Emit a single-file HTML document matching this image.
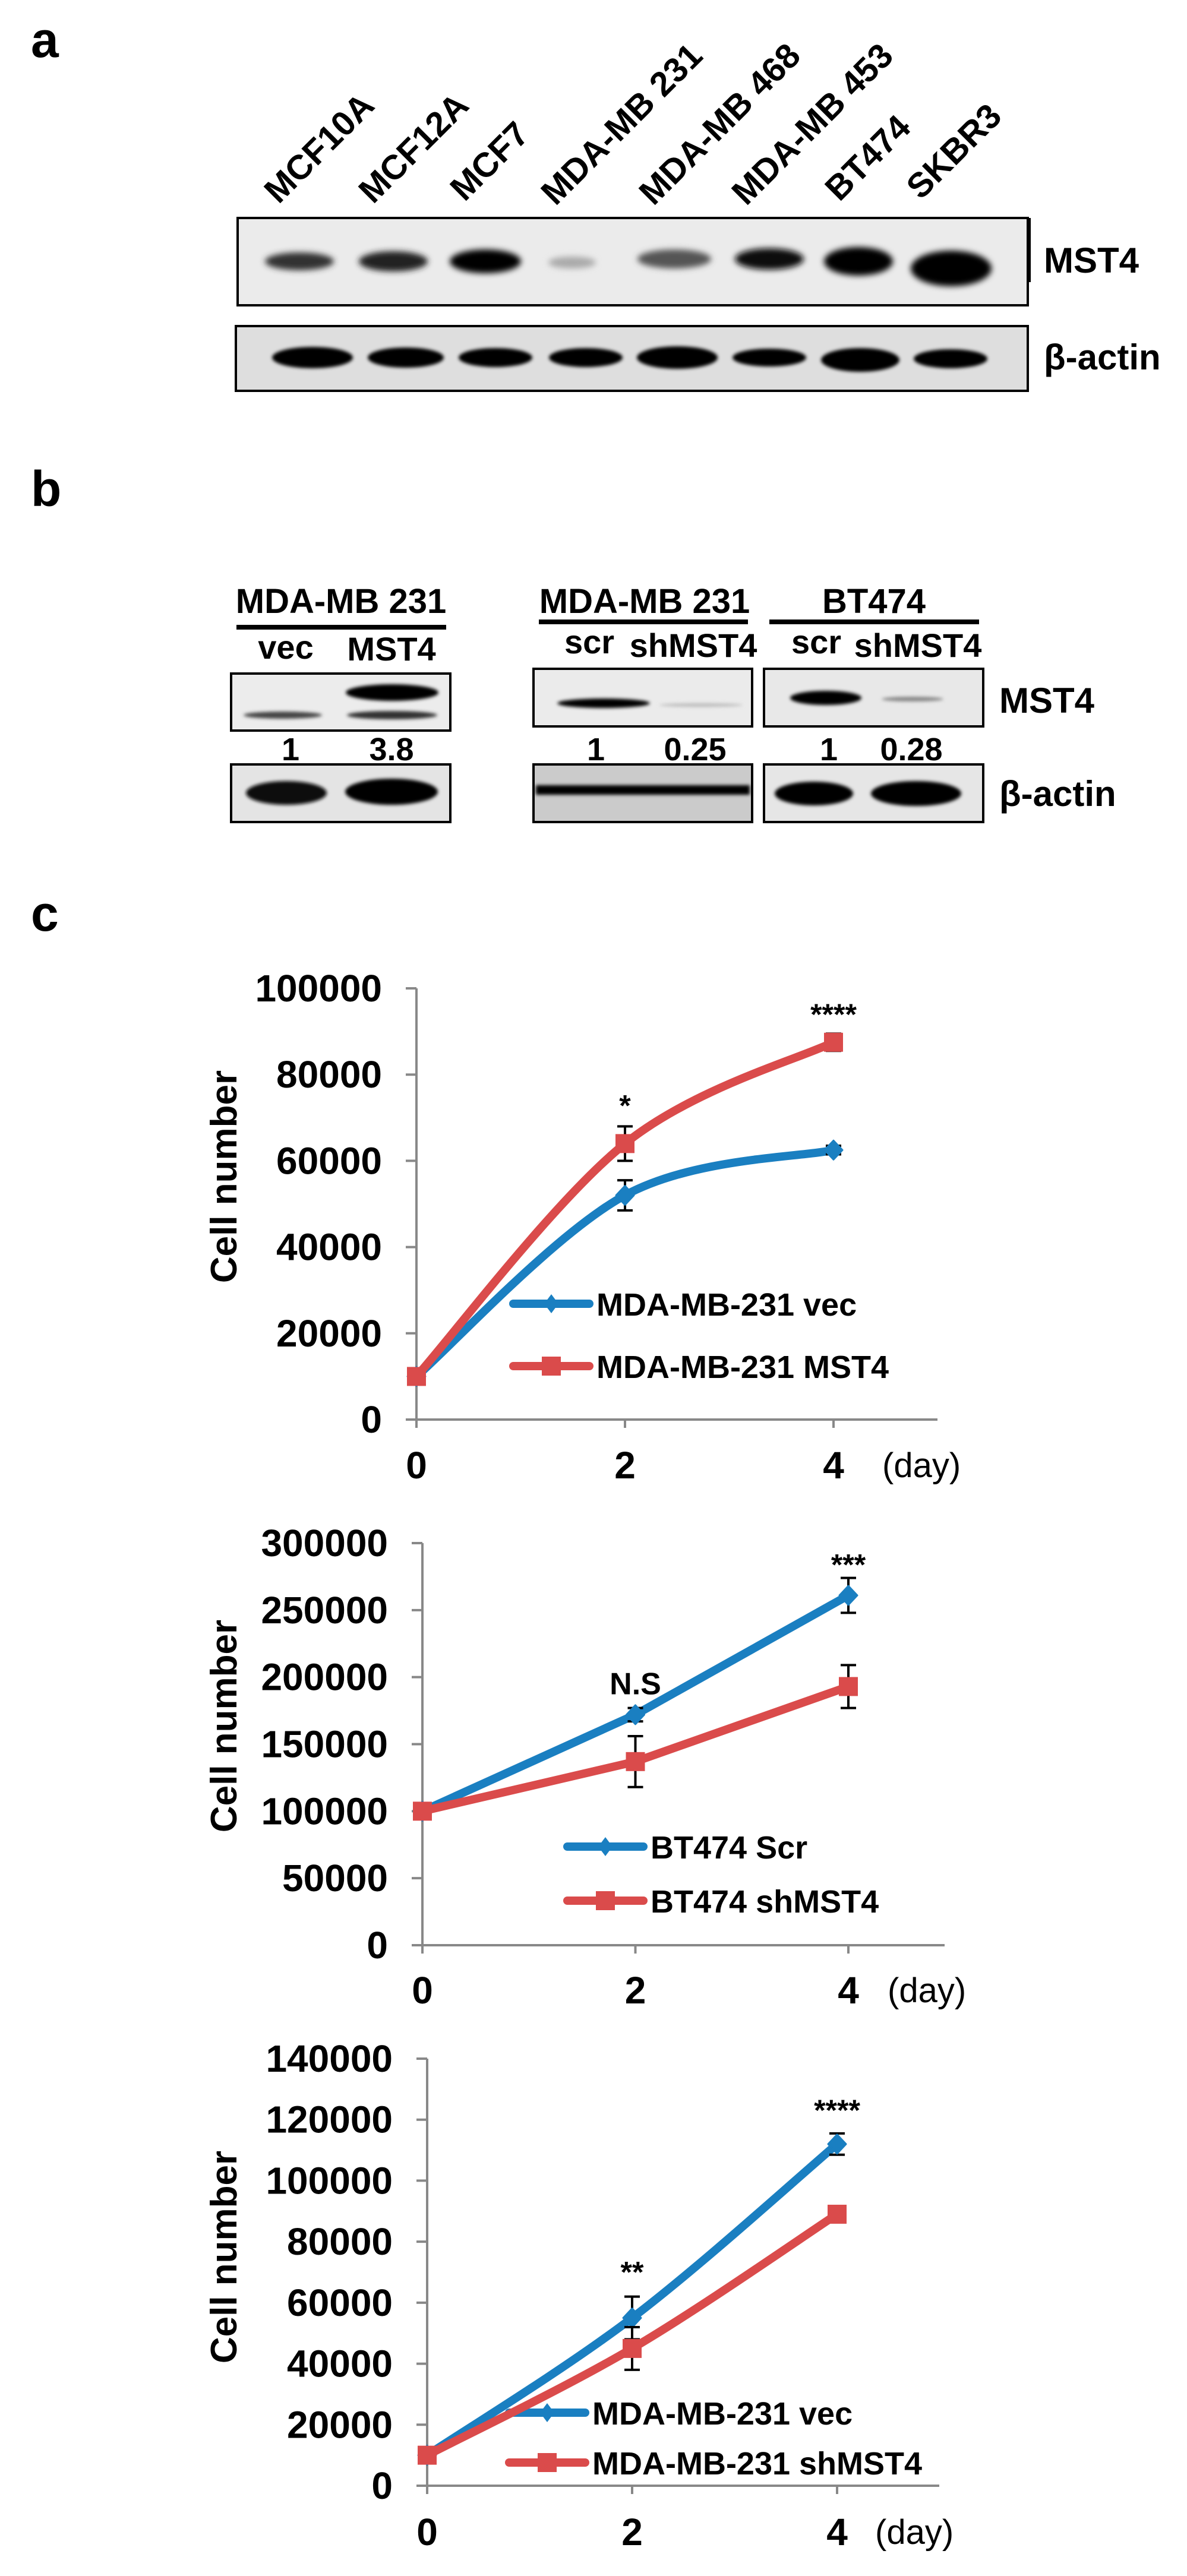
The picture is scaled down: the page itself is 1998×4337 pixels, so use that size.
<!DOCTYPE html>
<html><head><meta charset="utf-8"><style>
html,body{margin:0;padding:0;background:#fff;}
svg{display:block;font-family:"Liberation Sans",Arial,sans-serif;}
</style></head><body>
<svg id="fig" width="1998" height="4337" viewBox="0 0 1998 4337" xmlns="http://www.w3.org/2000/svg">
<defs>
<filter id="blur" x="-20%" y="-60%" width="140%" height="220%"><feGaussianBlur stdDeviation="5"/></filter>
<filter id="blur2" x="-20%" y="-60%" width="140%" height="220%"><feGaussianBlur stdDeviation="3"/></filter>
</defs>

<!-- Panel a -->
<text x="52" y="96" font-size="84" font-weight="bold">a</text>
<g font-size="58" font-weight="bold">
<text transform="translate(469,345) rotate(-45)">MCF10A</text>
<text transform="translate(628,345) rotate(-45)">MCF12A</text>
<text transform="translate(782,341) rotate(-45)">MCF7</text>
<text transform="translate(935,348) rotate(-45)">MDA-MB 231</text>
<text transform="translate(1100,348) rotate(-45)">MDA-MB 468</text>
<text transform="translate(1256,348) rotate(-45)">MDA-MB 453</text>
<text transform="translate(1413,341) rotate(-45)">BT474</text>
<text transform="translate(1550,338) rotate(-45)">SKBR3</text>
</g>
<g>
<rect x="400" y="367" width="1330" height="147" fill="#ebebeb" stroke="#000" stroke-width="4"/>
<line x1="1733" y1="367" x2="1733" y2="475" stroke="#000" stroke-width="4"/>
<g filter="url(#blur)">
<ellipse cx="504" cy="440" rx="58" ry="15" fill="#333"/>
<ellipse cx="662" cy="440" rx="58" ry="17" fill="#222"/>
<ellipse cx="817" cy="440" rx="60" ry="20" fill="#000"/>
<ellipse cx="963" cy="442" rx="40" ry="10" fill="#aaa"/>
<ellipse cx="1135" cy="436" rx="62" ry="16" fill="#555"/>
<ellipse cx="1295" cy="436" rx="58" ry="18" fill="#111"/>
<ellipse cx="1445" cy="440" rx="58" ry="24" fill="#000"/>
<ellipse cx="1601" cy="452" rx="68" ry="30" fill="#000"/>
</g>
</g>
<g>
<rect x="397" y="549" width="1333" height="109" fill="#dedede" stroke="#000" stroke-width="4"/>
<g filter="url(#blur2)">
<ellipse cx="526" cy="602" rx="68" ry="18" fill="#000"/>
<ellipse cx="683" cy="602" rx="64" ry="17" fill="#000"/>
<ellipse cx="834" cy="602" rx="62" ry="16" fill="#000"/>
<ellipse cx="986" cy="602" rx="62" ry="16" fill="#000"/>
<ellipse cx="1140" cy="602" rx="68" ry="19" fill="#000"/>
<ellipse cx="1295" cy="602" rx="62" ry="15" fill="#000"/>
<ellipse cx="1448" cy="606" rx="66" ry="20" fill="#000"/>
<ellipse cx="1600" cy="604" rx="62" ry="16" fill="#000"/>
</g>
</g>
<text x="1757" y="459" font-size="60" font-weight="bold">MST4</text>
<text x="1757" y="622" font-size="60" font-weight="bold">β-actin</text>

<!-- Panel b -->
<text x="52" y="852" font-size="84" font-weight="bold">b</text>
<g font-size="58" font-weight="bold" text-anchor="middle">
<text x="574" y="1032">MDA-MB 231</text>
<text x="1085" y="1032">MDA-MB 231</text>
<text x="1471" y="1032">BT474</text>
</g>
<rect x="398" y="1052" width="353" height="8" fill="#000"/>
<rect x="907" y="1043" width="352" height="8" fill="#000"/>
<rect x="1295" y="1043" width="353" height="8" fill="#000"/>
<g font-size="56" font-weight="bold" text-anchor="middle">
<text x="481" y="1109">vec</text><text x="659" y="1112">MST4</text>
<text x="992" y="1100">scr</text><text x="1167" y="1106">shMST4</text>
<text x="1374" y="1100">scr</text><text x="1545" y="1106">shMST4</text>
</g>
<g>
<rect x="389" y="1134" width="369" height="96" fill="#ececec" stroke="#000" stroke-width="4"/>
<g filter="url(#blur2)"><ellipse cx="476" cy="1204" rx="66" ry="6" fill="#444"/><ellipse cx="660" cy="1166" rx="78" ry="14" fill="#000"/><ellipse cx="660" cy="1204" rx="76" ry="7" fill="#333"/></g>
</g>
<g font-size="54" font-weight="bold" text-anchor="middle">
<text x="489" y="1280">1</text><text x="659" y="1280">3.8</text>
<text x="1003" y="1280">1</text><text x="1170" y="1280">0.25</text>
<text x="1395" y="1280">1</text><text x="1534" y="1280">0.28</text>
</g>
<g>
<rect x="389" y="1287" width="369" height="97" fill="#e4e4e4" stroke="#000" stroke-width="4"/>
<g filter="url(#blur2)"><ellipse cx="482" cy="1335" rx="68" ry="20" fill="#111"/><ellipse cx="659" cy="1333" rx="78" ry="22" fill="#000"/></g>
</g>
<g>
<rect x="898" y="1126" width="368" height="97" fill="#ebebeb" stroke="#000" stroke-width="4"/>
<g filter="url(#blur2)"><ellipse cx="1016" cy="1184" rx="78" ry="8" fill="#000"/><ellipse cx="1180" cy="1187" rx="70" ry="3" fill="#bbb"/></g>
</g>
<g>
<rect x="898" y="1287" width="368" height="97" fill="#cbcbcb" stroke="#000" stroke-width="4"/>
<rect x="902" y="1322" width="360" height="16" fill="#000" filter="url(#blur2)"/>
</g>
<g>
<rect x="1286" y="1126" width="369" height="97" fill="#e8e8e8" stroke="#000" stroke-width="4"/>
<g filter="url(#blur2)"><ellipse cx="1390" cy="1175" rx="60" ry="12" fill="#000"/><ellipse cx="1536" cy="1177" rx="52" ry="4" fill="#888"/></g>
</g>
<g>
<rect x="1286" y="1287" width="369" height="97" fill="#e6e6e6" stroke="#000" stroke-width="4"/>
<g filter="url(#blur2)"><ellipse cx="1370" cy="1336" rx="66" ry="20" fill="#000"/><ellipse cx="1542" cy="1336" rx="76" ry="21" fill="#000"/></g>
</g>
<text x="1682" y="1200" font-size="60" font-weight="bold">MST4</text>
<text x="1682" y="1357" font-size="60" font-weight="bold">β-actin</text>

<!-- Panel c -->
<text x="52" y="1567" font-size="84" font-weight="bold">c</text>
<g id="charts"></g>
</svg>
<script>
const days = [0, 2, 4];
// Chart 1
const c1VecValues = [10000, 52000, 62500];
const c1VecErr = [0, 3500, 1000];
const c1Mst4Values = [10000, 64000, 87500];
const c1Mst4Err = [0, 4000, 2000];
const c1Ticks = [0, 20000, 40000, 60000, 80000, 100000];
const c1Stars = ["", "*", "****"];
const c1StarValues = [0, 73500, 94600];
const c1Legend = ["MDA-MB-231 vec", "MDA-MB-231 MST4"];
// Chart 2
const c2ScrValues = [100000, 172000, 261000];
const c2ScrErr = [0, 5000, 13000];
const c2ShValues = [100000, 137000, 193000];
const c2ShErr = [0, 19000, 16000];
const c2Ticks = [0, 50000, 100000, 150000, 200000, 250000, 300000];
const c2Stars = ["", "N.S", "***"];
const c2StarValues = [0, 197000, 286000];
const c2Legend = ["BT474 Scr", "BT474 shMST4"];
// Chart 3
const c3VecValues = [10000, 55000, 112000];
const c3VecErr = [0, 7000, 3500];
const c3ShValues = [10000, 45000, 89000];
const c3ShErr = [0, 7000, 500];
const c3Ticks = [0, 20000, 40000, 60000, 80000, 100000, 120000, 140000];
const c3Stars = ["", "**", "****"];
const c3StarValues = [0, 71000, 124000];
const c3Legend = ["MDA-MB-231 vec", "MDA-MB-231 shMST4"];

const NS = "http://www.w3.org/2000/svg";
const root = document.getElementById("charts");
const BLUE = "#1a7fc1", RED = "#da4b4b";
function mk(tag, attrs, parent) {
  const e = document.createElementNS(NS, tag);
  for (const k in attrs) e.setAttribute(k, attrs[k]);
  parent.appendChild(e);
  return e;
}
function smoothPath(pts) {
  let d = "M" + pts[0][0] + "," + pts[0][1];
  for (let i = 0; i < pts.length - 1; i++) {
    const p0 = pts[i - 1] || pts[i], p1 = pts[i], p2 = pts[i + 1], p3 = pts[i + 2] || p2;
    const t = 0.5 / 3 * 2;
    const c1x = p1[0] + (p2[0] - p0[0]) * t / 2, c1y = p1[1] + (p2[1] - p0[1]) * t / 2;
    const c2x = p2[0] - (p3[0] - p1[0]) * t / 2, c2y = p2[1] - (p3[1] - p1[1]) * t / 2;
    d += " C" + c1x + "," + c1y + " " + c2x + "," + c2y + " " + p2[0] + "," + p2[1];
  }
  return d;
}
function chart(cfg) {
  const g = mk("g", {}, root);
  
  
  const xs = d => cfg.x0 + (d - days[0]) / (days[2] - days[0]) * (cfg.x4 - cfg.x0);
  const ys = v => cfg.yb - v / cfg.ymax * (cfg.yb - cfg.yt);
  const ax = mk("g", { stroke: "#888", "stroke-width": 4 }, g);
  
  
  mk("line", { x1: cfg.x0, y1: cfg.yt, x2: cfg.x0, y2: cfg.yb }, ax);
  mk("line", { x1: cfg.x0 - 18, y1: cfg.yb, x2: cfg.xEnd, y2: cfg.yb }, ax);
  cfg.ticks.forEach(v => {
    mk("line", { x1: cfg.x0 - 18, y1: ys(v), x2: cfg.x0, y2: ys(v) }, ax);
    const t = mk("text", { x: cfg.x0 - 58, y: ys(v) + 22, "font-size": 64, "font-weight": "bold", "text-anchor": "end" }, g);
    
    
    t.textContent = v;
  });
  days.forEach(d => {
    mk("line", { x1: xs(d), y1: cfg.yb, x2: xs(d), y2: cfg.yb + 14 }, ax);
    const t = mk("text", { x: xs(d), y: cfg.xLabY, "font-size": 64, "font-weight": "bold", "text-anchor": "middle" }, g);
    
    
    t.textContent = d;
  });
  const day = mk("text", { x: cfg.dayX, y: cfg.xLabY - 2, "font-size": 58 }, g);
  
  
  day.textContent = "(day)";
  const yt = mk("text", { x: 0, y: 0, "font-size": 62, "font-weight": "bold", "text-anchor": "middle", transform: "translate(" + (cfg.titleX) + "," + cfg.titleY + ") rotate(-90)" }, g);
  
  
  yt.textContent = "Cell number";
  cfg.series.forEach((s, si) => {
    const sg = mk("g", {}, g);
    
    
    const pts = s.values.map((v, i) => [xs(days[i]), ys(v)]);
    const d = cfg.smooth ? smoothPath(pts) : "M" + pts.map(p => p.join(",")).join(" L");
    const ln = mk("path", { d: d, fill: "none", stroke: s.color, "stroke-width": 14, "stroke-linecap": "round", "stroke-linejoin": "round" }, sg);
    
    
    s.values.forEach((v, i) => {
      const x = xs(days[i]), y = ys(v);
      if (s.err[i] > 0) {
        const eg = mk("g", { stroke: "#000", "stroke-width": 4 }, sg);
        
        
        mk("line", { x1: x, y1: ys(v + s.err[i]), x2: x, y2: ys(v - s.err[i]) }, eg);
        mk("line", { x1: x - 13, y1: ys(v + s.err[i]), x2: x + 13, y2: ys(v + s.err[i]) }, eg);
        mk("line", { x1: x - 13, y1: ys(v - s.err[i]), x2: x + 13, y2: ys(v - s.err[i]) }, eg);
      }
      let m;
      if (s.marker === "square") m = mk("rect", { x: x - 16, y: y - 16, width: 32, height: 32, fill: s.color }, sg);
      else m = mk("path", { d: "M" + x + "," + (y - 16) + " L" + (x + 15) + "," + y + " L" + x + "," + (y + 16) + " L" + (x - 15) + "," + y + "Z", fill: s.color, stroke: s.color, "stroke-width": 3, "stroke-linejoin": "round" }, sg);
      
      
    });
    const lg = mk("g", {}, g);
    
    
    const ly = cfg.legY[si];
    mk("line", { x1: cfg.legX, y1: ly, x2: cfg.legX + 128, y2: ly, stroke: s.color, "stroke-width": 14, "stroke-linecap": "round" }, lg);
    const mx = cfg.legX + 64;
    if (s.marker === "square") mk("rect", { x: mx - 16, y: ly - 16, width: 32, height: 32, fill: s.color }, lg);
    else mk("path", { d: "M" + mx + "," + (ly - 16) + " L" + (mx + 12) + "," + ly + " L" + mx + "," + (ly + 16) + " L" + (mx - 12) + "," + ly + "Z", fill: s.color }, lg);
    const lt = mk("text", { x: cfg.legX + 140, y: ly + 20, "font-size": 54, "font-weight": "bold" }, lg);
    lt.textContent = cfg.legend[si];
  });
  cfg.stars.forEach((s, i) => {
    if (!s) return;
    const t = mk("text", { x: xs(days[i]), y: ys(cfg.starVals[i]) + 22, "font-size": s === "N.S" ? 52 : 50, "font-weight": "bold", "text-anchor": "middle" }, g);
    
    
    t.textContent = s;
  });
}
chart({ name: "chart-mda231-overexpression", x0: 701, x4: 1403, xEnd: 1578, yt: 1664, yb: 2390, ymax: 100000, ticks: c1Ticks,
  xLabY: 2489, dayX: 1485, titleX: 398, titleY: 1981, smooth: true,
  series: [{ values: c1VecValues, err: c1VecErr, color: BLUE, marker: "diamond" }, { values: c1Mst4Values, err: c1Mst4Err, color: RED, marker: "square" }],
  legend: c1Legend, legX: 864, legY: [2195, 2300], stars: c1Stars, starVals: c1StarValues });
chart({ name: "chart-bt474-knockdown", x0: 711, x4: 1428, xEnd: 1590, yt: 2598, yb: 3275, ymax: 300000, ticks: c2Ticks,
  xLabY: 3373, dayX: 1494, titleX: 398, titleY: 2906, smooth: false,
  series: [{ values: c2ScrValues, err: c2ScrErr, color: BLUE, marker: "diamond" }, { values: c2ShValues, err: c2ShErr, color: RED, marker: "square" }],
  legend: c2Legend, legX: 955, legY: [3109, 3200], stars: c2Stars, starVals: c2StarValues });
chart({ name: "chart-mda231-knockdown", x0: 719, x4: 1409, xEnd: 1581, yt: 3466, yb: 4185, ymax: 140000, ticks: c3Ticks,
  xLabY: 4285, dayX: 1473, titleX: 398, titleY: 3800, smooth: true,
  series: [{ values: c3VecValues, err: c3VecErr, color: BLUE, marker: "diamond" }, { values: c3ShValues, err: c3ShErr, color: RED, marker: "square" }],
  legend: c3Legend, legX: 857, legY: [4062, 4146], stars: c3Stars, starVals: c3StarValues });
</script>
</body></html>
